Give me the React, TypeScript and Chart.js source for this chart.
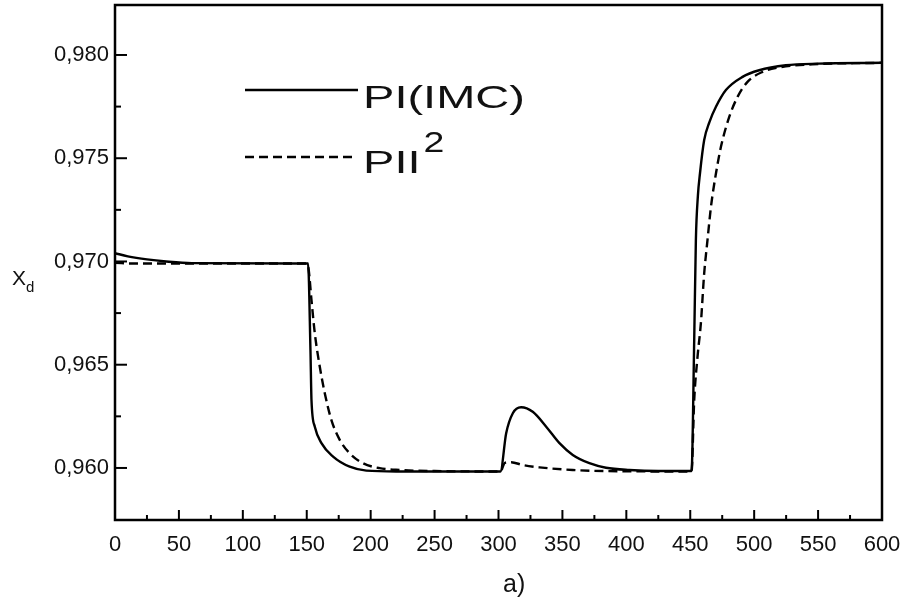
import { useEffect, useRef } from "react";
import { Chart, registerables } from "chart.js";

Chart.register(...registerables);

const FONT = "'Liberation Sans', Arial, Helvetica, sans-serif";

// Axis ticks
const xTickValues = [0, 50, 100, 150, 200, 250, 300, 350, 400, 450, 500, 550, 600];
const xMinorTicks = [25, 75, 125, 175, 225, 275, 325, 375, 425, 475, 525, 575];
const yTickValues = [0.96, 0.965, 0.97, 0.975, 0.98];
const yMinorTicks = [0.9625, 0.9675, 0.9725, 0.9775];

// PI(IMC) controller response
const piImcTime = [
  0, 10, 25, 40, 60, 150, 151, 152.9, 153.7, 156.3, 161.5, 170.6, 183.6, 196.6, 220, 301.5,
  306, 311.2, 317.7, 326.8, 337.3, 347.7, 358.1, 371.1, 384.1, 402.3, 425, 451,
  453.1, 454.4, 456, 457.6, 460.9, 465, 470.1, 477.9, 490.9, 503.9, 524.8, 550, 600,
];
const piImcValue = [
  0.9704, 0.97025, 0.9701, 0.97, 0.96992, 0.9699, 0.9699, 0.96571, 0.96329, 0.962, 0.9612, 0.96055, 0.96006, 0.95987, 0.95983, 0.95983,
  0.96168, 0.96265, 0.96294, 0.96272, 0.962, 0.9612, 0.96063, 0.96023, 0.96001, 0.9599, 0.95985, 0.95985,
  0.9662, 0.97104, 0.9732, 0.97426, 0.97588, 0.97675, 0.97749, 0.9783, 0.97894, 0.97926, 0.9795, 0.97958, 0.97962,
];

// PII² controller response
const pii2Time = [
  0, 15, 150, 151.5, 153.7, 156.3, 160.2, 164.1, 169.3, 175.8, 183.6, 194, 207, 222.7, 250, 301.5,
  305, 310, 319, 332, 358, 384, 451,
  453.1, 455.7, 458.3, 460.9, 463.5, 466.2, 470.1, 474, 480.5, 487, 494.8, 506.5, 519.5, 545.6, 600,
];
const pii2Value = [
  0.96993, 0.9699, 0.9699, 0.9696, 0.96813, 0.96652, 0.9649, 0.96362, 0.96232, 0.96136, 0.96071, 0.96023, 0.95999, 0.9599, 0.95985, 0.95983,
  0.96025, 0.96028, 0.96014, 0.96003, 0.9599, 0.95985, 0.95983,
  0.96329, 0.96539, 0.967, 0.96942, 0.97104, 0.97265, 0.97426, 0.97555, 0.977, 0.97797, 0.9787, 0.97918, 0.9794, 0.97955, 0.97962,
];

const toPoints = (xs: number[], ys: number[]) => xs.map((x, i) => ({ x, y: ys[i] }));

const decorations = {
  id: "decorations",
  afterDraw(chart: any) {
    const { ctx, chartArea, scales } = chart;
    const { left, right, top, bottom } = chartArea;
    const x = scales.x;
    const y = scales.y;
    ctx.save();
    ctx.strokeStyle = "#000";
    ctx.fillStyle = "#111";

    // frame
    ctx.lineWidth = 2.5;
    ctx.strokeRect(left, top, right - left, bottom - top);

    // inward ticks
    ctx.lineWidth = 2;
    const seg = (x1: number, y1: number, x2: number, y2: number) => {
      ctx.beginPath();
      ctx.moveTo(x1, y1);
      ctx.lineTo(x2, y2);
      ctx.stroke();
    };
    xTickValues.forEach((v) => {
      const p = x.getPixelForValue(v);
      seg(p, bottom, p, bottom - 10);
    });
    xMinorTicks.forEach((v) => {
      const p = x.getPixelForValue(v);
      seg(p, bottom, p, bottom - 5);
    });
    yTickValues.forEach((v) => {
      const p = y.getPixelForValue(v);
      seg(left, p, left + 12, p);
    });
    yMinorTicks.forEach((v) => {
      const p = y.getPixelForValue(v);
      seg(left, p, left + 6, p);
    });

    // legend
    ctx.lineWidth = 2.4;
    seg(245, 90, 358, 90);
    ctx.setLineDash([9, 5]);
    seg(245, 157, 355, 157);
    ctx.setLineDash([]);

    ctx.textBaseline = "alphabetic";
    ctx.textAlign = "left";
    ctx.font = `32px ${FONT}`;
    const sx = 162 / ctx.measureText("PI(IMC)").width;
    ctx.save();
    ctx.translate(363, 108);
    ctx.scale(sx, 1);
    ctx.fillText("PI(IMC)", 0, 0);
    ctx.restore();

    const wPII = ctx.measureText("PII").width * sx;
    ctx.save();
    ctx.translate(363, 173);
    ctx.scale(sx, 1);
    ctx.fillText("PII", 0, 0);
    ctx.restore();
    ctx.font = `30px ${FONT}`;
    ctx.save();
    ctx.translate(363 + wPII + 3, 152);
    ctx.scale(sx * 0.85, 1);
    ctx.fillText("2", 0, 0);
    ctx.restore();

    // y axis title X_d
    ctx.font = `21px ${FONT}`;
    ctx.fillText("X", 12, 285);
    const wX = ctx.measureText("X").width;
    ctx.font = `15px ${FONT}`;
    ctx.fillText("d", 12 + wX, 292);

    // panel label
    ctx.font = `25px ${FONT}`;
    ctx.fillText("a)", 503, 592);

    ctx.restore();
  },
};

export default function App() {
  const ref = useRef<HTMLCanvasElement>(null);

  useEffect(() => {
    if (!ref.current) return;
    const chart = new Chart(ref.current, {
      type: "line",
      data: {
        datasets: [
          {
            label: "PI(IMC)",
            data: toPoints(piImcTime, piImcValue),
            borderColor: "#000",
            borderWidth: 2.4,
            pointRadius: 0,
            fill: false,
            cubicInterpolationMode: "monotone",
          },
          {
            label: "PII²",
            data: toPoints(pii2Time, pii2Value),
            borderColor: "#000",
            borderWidth: 2.4,
            borderDash: [9, 5],
            pointRadius: 0,
            fill: false,
            cubicInterpolationMode: "monotone",
          },
        ],
      },
      options: {
        animation: false,
        responsive: false,
        layout: { padding: { top: 5, right: 21, bottom: 0, left: 0 } },
        plugins: {
          legend: { display: false },
          tooltip: { enabled: false },
        },
        scales: {
          x: {
            type: "linear",
            min: 0,
            max: 600,
            grid: { display: false, drawTicks: false },
            border: { display: false },
            afterBuildTicks: (s: any) => {
              s.ticks = xTickValues.map((v) => ({ value: v }));
            },
            afterFit: (s: any) => {
              s.height = 80;
              s.paddingLeft = 0;
              s.paddingRight = 0;
            },
            ticks: {
              autoSkip: false,
              maxRotation: 0,
              padding: 12,
              color: "#111",
              font: { family: FONT, size: 22 },
              callback: (v: any) => String(v),
            },
          },
          y: {
            type: "linear",
            min: 0.95748,
            max: 0.98242,
            grid: { display: false, drawTicks: false },
            border: { display: false },
            afterBuildTicks: (s: any) => {
              s.ticks = yTickValues.map((v) => ({ value: v }));
            },
            afterFit: (s: any) => {
              s.width = 115;
              s.paddingTop = 0;
              s.paddingBottom = 0;
            },
            ticks: {
              padding: 6,
              color: "#111",
              font: { family: FONT, size: 22 },
              callback: (v: any) => Number(v).toFixed(3).replace(".", ","),
            },
          },
        },
      },
      plugins: [decorations],
    });
    return () => chart.destroy();
  }, []);

  return (
    <div style={{ position: "fixed", left: 0, top: 0, width: 903, height: 600, background: "#fff" }}>
      <canvas ref={ref} width={903} height={600} style={{ display: "block" }} />
    </div>
  );
}
